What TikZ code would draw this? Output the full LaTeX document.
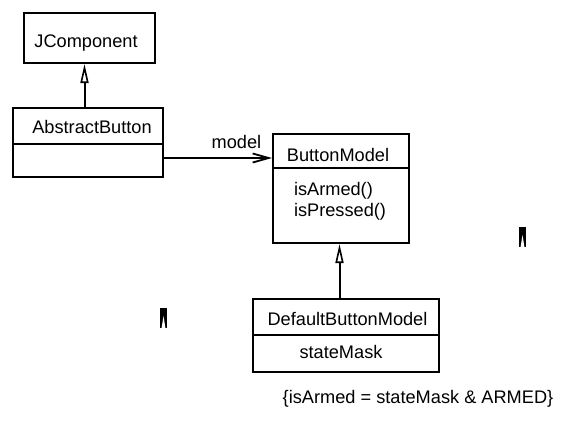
\documentclass[tikz,border=0pt]{standalone}
\usepackage{fontspec}
\setmainfont{Liberation Sans}
\usetikzlibrary{arrows.meta}
\begin{document}
\begin{tikzpicture}[x=1pt,y=-1pt,line width=2pt,
  box/.style={draw,line width=2pt,inner sep=0pt},
  lbl/.style={font=\fontsize{18.2}{22}\selectfont,inner sep=0pt},
  inherit/.style={-{Triangle[open,length=19pt,width=8pt,line width=1.6pt]}},
  assoc/.style={-{Straight Barb[length=16pt,width=9pt,line width=1.8pt]}},
  glitch/.style={fill=black}]
\useasboundingbox (0,0) rectangle (566,421);
% JComponent
\node[box,minimum width=131pt,minimum height=50pt] (jc) at (89.5,38) {};
\node[lbl,anchor=base] (jct) at (86,47) {JComponent};
% AbstractButton
\node[box,minimum width=150pt,minimum height=36pt] (abh) at (88,126) {};
\node[box,minimum width=150pt,minimum height=33pt] (abb) at (88,160.5) {};
\node[lbl,anchor=base] (abt) at (92,133) {AbstractButton};
% ButtonModel
\node[box,minimum width=136pt,minimum height=34pt] (bmh) at (341,151) {};
\node[box,minimum width=136pt,minimum height=75pt] (bmb) at (341,205.5) {};
\node[lbl,anchor=base] (bmt) at (338,161) {ButtonModel};
\node[lbl,anchor=base west] (bm1) at (293,195) {isArmed()};
\node[lbl,anchor=base west] (bm2) at (293,216) {isPressed()};
% DefaultButtonModel
\node[box,minimum width=186pt,minimum height=36pt] (dbh) at (346,317) {};
\node[box,minimum width=186pt,minimum height=37pt] (dbb) at (346,353.5) {};
\node[lbl,anchor=base] (dbt) at (347.5,325) {DefaultButtonModel};
\node[lbl,anchor=base] (db1) at (341,358) {stateMask};
% note
\node[lbl,anchor=base] (note) at (418,403) {\{isArmed = stateMask \& ARMED\}};
% connectors
\coordinate (abtop) at (84.5,108);
\draw[inherit] (abh.north -| abtop) -- (jc.south -| abtop);
\coordinate (dbx) at (339.5,0);
\draw[inherit] (dbh.north -| dbx) -- (bmb.south -| dbx);
\coordinate (my) at (0,158);
\draw[assoc] (abb.east |- my) -- (bmh.west |- my);
\node[lbl,anchor=base] (ml) at (236.5,148) {model};
% stray marks
\fill[glitch] (519,227) rectangle (526,247);
\fill[white] (520.5,247.5) -- (522.5,235) -- (524.5,247.5) -- cycle;
\fill[glitch] (160,308) rectangle (167,328);
\fill[white] (161.5,328.5) -- (163.5,316) -- (165.5,328.5) -- cycle;
\end{tikzpicture}
\end{document}
